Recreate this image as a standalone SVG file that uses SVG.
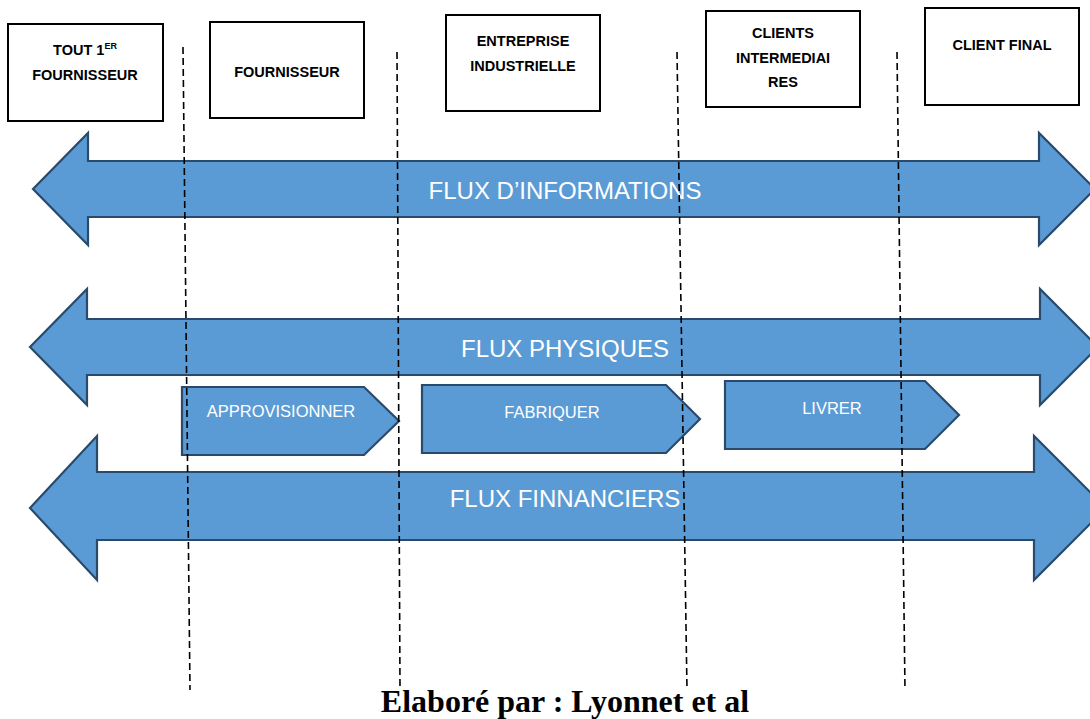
<svg xmlns="http://www.w3.org/2000/svg" width="1090" height="719" viewBox="0 0 1090 719">
<style>
.box{fill:#fff;stroke:#000;stroke-width:2}
.bt{font-family:"Liberation Sans",Arial,sans-serif;font-weight:bold;font-size:14.5px;fill:#000;text-anchor:middle}
.flow{fill:#5b9bd5;stroke:#2a4a6b;stroke-width:2.2;stroke-linejoin:miter}
.ft{font-family:"Liberation Sans",Arial,sans-serif;font-size:24px;fill:#fff;text-anchor:middle}
.ct{font-family:"Liberation Sans",Arial,sans-serif;font-size:16.5px;fill:#fff;text-anchor:middle}
.dash{stroke:#000;stroke-width:1.6;stroke-dasharray:7 4;fill:none}
.cap{font-family:"Liberation Serif","Times New Roman",serif;font-weight:bold;font-size:32px;fill:#000;text-anchor:middle}
</style>
<rect width="1090" height="719" fill="#fff"/>
<g id="node-tout-1er-fournisseur">
<rect class="box" x="8" y="24" width="155" height="97"/>
<text class="bt" x="85" y="55">TOUT 1<tspan font-size="9" dy="-6">ER</tspan></text>
<text class="bt" x="85" y="80">FOURNISSEUR</text>
</g>
<g id="node-fournisseur">
<rect class="box" x="210" y="22" width="154" height="96"/>
<text class="bt" x="287" y="77">FOURNISSEUR</text>
</g>
<g id="node-entreprise">
<rect class="box" x="446" y="15" width="154" height="96"/>
<text class="bt" x="523" y="46">ENTREPRISE</text>
<text class="bt" x="523" y="71">INDUSTRIELLE</text>
</g>
<g id="node-clients-intermediaires">
<rect class="box" x="706" y="11" width="154" height="96"/>
<text class="bt" x="783" y="38">CLIENTS</text>
<text class="bt" x="783" y="63">INTERMEDIAI</text>
<text class="bt" x="783" y="87">RES</text>
</g>
<g id="node-client-final">
<rect class="box" x="925" y="8" width="154" height="97"/>
<text class="bt" x="1002" y="50">CLIENT FINAL</text>
</g>
<g id="flux-informations">
<polygon class="flow" points="33,189 88,133 88,161 1039,161 1039,133 1095,189 1039,245 1039,217 88,217 88,245"/>
<text class="ft" x="565" y="199">FLUX D’INFORMATIONS</text>
</g>
<g id="flux-physiques">
<polygon class="flow" points="30,347 87,289 87,319 1040,319 1040,289 1098,347 1040,405 1040,375 87,375 87,405"/>
<text class="ft" x="565" y="357">FLUX PHYSIQUES</text>
</g>
<g id="flux-financiers">
<polygon class="flow" points="30,508 97,436 97,472 1034,472 1034,436 1106,508 1034,580 1034,540 97,540 97,580"/>
<text class="ft" x="565" y="507">FLUX FINNANCIERS</text>
</g>
<g id="step-approvisionner">
<polygon class="flow" points="182,387 364,387 399,421 364,455 182,455"/>
<text class="ct" x="281" y="417">APPROVISIONNER</text>
</g>
<g id="step-fabriquer">
<polygon class="flow" points="422,385 666,385 700,419 666,453 422,453"/>
<text class="ct" x="552" y="418" font-size="17.5">FABRIQUER</text>
</g>
<g id="step-livrer">
<polygon class="flow" points="725,381 925,381 959,415 925,449 725,449"/>
<text class="ct" x="832" y="414" font-size="17.5">LIVRER</text>
</g>
<g id="connectors">
<line class="dash" x1="183" y1="47" x2="190" y2="690"/>
<line class="dash" x1="397" y1="52" x2="400" y2="690"/>
<line class="dash" x1="677" y1="52" x2="687" y2="690"/>
<line class="dash" x1="897" y1="52" x2="905" y2="690"/>
</g>
<text class="cap" x="565" y="712">Elaboré par : Lyonnet et al</text>
</svg>
